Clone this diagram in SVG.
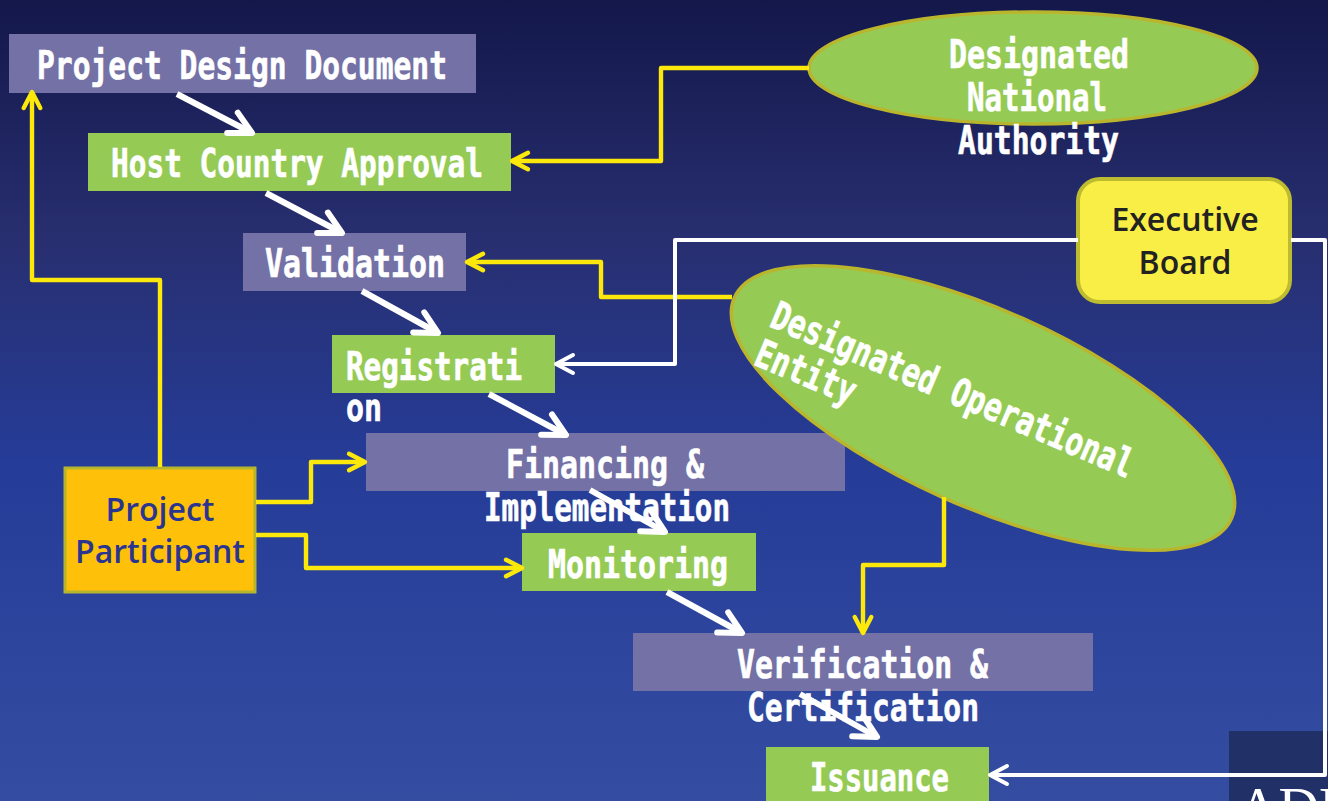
<svg xmlns="http://www.w3.org/2000/svg" width="1328" height="801" viewBox="0 0 1328 801">
<style>
.box{stroke:none}
.pur{fill:#7371a5}
.grn{fill:#95cb55}
.t{font-family:"DejaVu Sans Mono","Liberation Mono",monospace;font-weight:bold;font-size:39px;fill:#fff;stroke:#fff;stroke-width:0.7}
.h{font-family:"Open Sans","Noto Sans",sans-serif;font-weight:600;font-size:32px;text-anchor:middle}
.y{fill:none;stroke:#fce80a;stroke-width:4.4;stroke-linejoin:round;marker-end:url(#ya)}
.w{fill:none;stroke:#fff;stroke-width:4;stroke-linejoin:round;marker-end:url(#wa)}
.d{fill:none;stroke:#fff;stroke-width:6;marker-end:url(#da)}
.oval{fill:#95cb55;stroke:#b9b62e;stroke-width:3.5}
</style>
<defs>
<linearGradient id="bg" x1="0" y1="0" x2="0" y2="1">
<stop offset="0" stop-color="#13174a"/>
<stop offset="0.3" stop-color="#282f70"/>
<stop offset="0.58" stop-color="#253c98"/>
<stop offset="1" stop-color="#344da1"/>
</linearGradient>
<marker id="ya" markerUnits="userSpaceOnUse" markerWidth="24" markerHeight="24" refX="18" refY="12" orient="auto" overflow="visible">
<path d="M2 3.7L18 12L2 20.3" fill="none" stroke="#fce80a" stroke-width="4.4" stroke-linecap="round" stroke-linejoin="round"/>
</marker>
<marker id="wa" markerUnits="userSpaceOnUse" markerWidth="24" markerHeight="24" refX="18" refY="12" orient="auto" overflow="visible">
<path d="M1 3L18 12L1 21" fill="none" stroke="#fff" stroke-width="4" stroke-linecap="round" stroke-linejoin="round"/>
</marker>
<marker id="da" markerUnits="userSpaceOnUse" markerWidth="36" markerHeight="36" refX="28" refY="18" orient="auto" overflow="visible">
<path d="M6 6.5L28 18L6 29.5" fill="none" stroke="#fff" stroke-width="6" stroke-linecap="round" stroke-linejoin="round"/>
</marker>
<clipPath id="logo"><rect x="1229" y="731" width="99" height="70"/></clipPath>
</defs>
<rect id="background" width="1328" height="801" fill="url(#bg)"/>
<g id="logo-corner">
<rect x="1229" y="731" width="99" height="70" fill="#223068"/>
<text x="1238" y="827" clip-path="url(#logo)" font-family="Liberation Serif,serif" font-size="56" fill="#fff">ADB</text>
</g>

<g id="project-design-document"><rect class="box pur" x="9" y="34" width="467" height="59"/><text class="t" x="37" y="79" textLength="410" lengthAdjust="spacingAndGlyphs">Project Design Document</text></g>
<g id="host-country-approval"><rect class="box grn" x="88" y="133" width="423" height="58"/><text class="t" x="111" y="177" textLength="372" lengthAdjust="spacingAndGlyphs">Host Country Approval</text></g>
<g id="validation"><rect class="box pur" x="243" y="233" width="223" height="58"/><text class="t" x="265" y="277" textLength="180" lengthAdjust="spacingAndGlyphs">Validation</text></g>
<g id="registration"><rect class="box grn" x="332" y="335" width="223" height="58"/><text class="t" x="346" y="380" textLength="176" lengthAdjust="spacingAndGlyphs">Registrati</text><text class="t" x="346" y="421" textLength="36" lengthAdjust="spacingAndGlyphs">on</text></g>
<g id="financing-implementation"><rect class="box pur" x="366" y="433" width="479" height="58"/><text class="t" x="506" y="478" textLength="198" lengthAdjust="spacingAndGlyphs">Financing &amp;</text><text class="t" x="484" y="521" textLength="246" lengthAdjust="spacingAndGlyphs">Implementation</text></g>
<g id="monitoring"><rect class="box grn" x="522" y="533" width="234" height="58"/><text class="t" x="548" y="578" textLength="180" lengthAdjust="spacingAndGlyphs">Monitoring</text></g>
<g id="verification-certification"><rect class="box pur" x="633" y="633" width="460" height="58"/><text class="t" x="737" y="678" textLength="251" lengthAdjust="spacingAndGlyphs">Verification &amp;</text><text class="t" x="747" y="721" textLength="232" lengthAdjust="spacingAndGlyphs">Certification</text></g>
<g id="issuance"><rect class="box grn" x="766" y="747" width="223" height="58"/><text class="t" x="810" y="791" textLength="139" lengthAdjust="spacingAndGlyphs">Issuance</text></g>

<g id="designated-national-authority"><ellipse class="oval" cx="1033" cy="68" rx="224" ry="56"/><text class="t" x="949" y="68" textLength="180" lengthAdjust="spacingAndGlyphs">Designated</text><text class="t" x="967" y="111" textLength="140" lengthAdjust="spacingAndGlyphs">National</text><text class="t" x="958" y="154" textLength="161" lengthAdjust="spacingAndGlyphs">Authority</text></g>
<g id="designated-operational-entity"><ellipse class="oval" cx="983" cy="408" rx="272" ry="98" transform="rotate(24 983 408)"/><text class="t" transform="translate(768 326) rotate(23)" textLength="390" lengthAdjust="spacingAndGlyphs">Designated Operational</text><text class="t" transform="translate(752 364) rotate(23)" textLength="106" lengthAdjust="spacingAndGlyphs">Entity</text></g>
<g id="executive-board"><rect x="1078" y="179" width="212" height="123" rx="22" fill="#f9ee45" stroke="#bdbb30" stroke-width="4"/><text class="h" x="1185" y="231" fill="#222">Executive</text><text class="h" x="1185" y="274" fill="#222">Board</text></g>
<g id="project-participant"><rect x="65" y="468" width="190" height="124" fill="#ffc00a" stroke="#b5b52e" stroke-width="3"/><text class="h" x="160" y="521" fill="#2a3590">Project</text><text class="h" x="160" y="563" fill="#2a3590">Participant</text></g>

<g id="connectors">
<path class="y" d="M160 467V280H32V92"/>
<path class="y" d="M256 502H311V462H365"/>
<path class="y" d="M256 535H306V568H522"/>
<path class="y" d="M809 68H661V161H512"/>
<path class="y" d="M732 297H601V262H467"/>
<path class="y" d="M944 497V565H863V633"/>
<path class="w" d="M1078 240H675V364H556"/>
<path class="w" d="M1291 240H1325V775H990"/>
<path class="d" d="M177 94L252 133"/>
<path class="d" d="M266 193L342 233"/>
<path class="d" d="M362 291L438 333"/>
<path class="d" d="M489 394L566 435"/>
<path class="d" d="M590 490L665 532"/>
<path class="d" d="M667 592L742 633"/>
<path class="d" d="M800 694L877 737"/>
</g>
</svg>
